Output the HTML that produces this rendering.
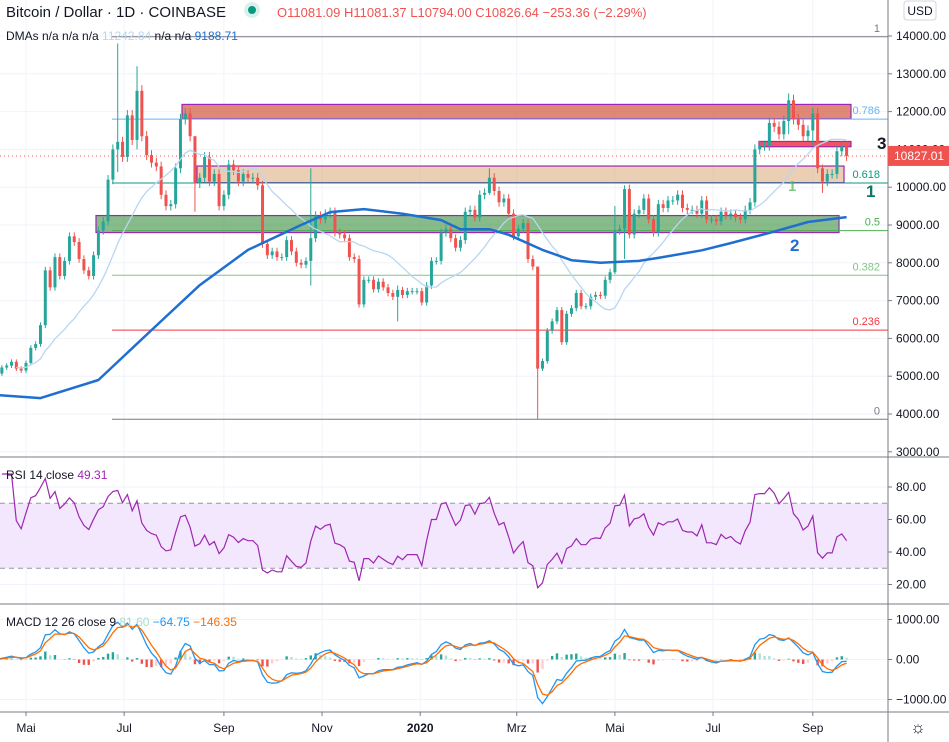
<!DOCTYPE html>
<html><head><meta charset="utf-8">
<style>
html,body{margin:0;padding:0;background:#fff;}
body{width:949px;height:742px;overflow:hidden;font-family:"Liberation Sans",sans-serif;}
svg{display:block}
text{font-family:"Liberation Sans",sans-serif;}
</style></head>
<body>
<svg id="chart" width="949" height="742" xmlns="http://www.w3.org/2000/svg">
  <g id="grid"></g>
  <g id="zones"></g>
  <g id="fib"></g>
  <g id="rsiBand"></g>
  <g id="candles"></g>
  <g id="mas"></g>
  <g id="ind"></g>
  <g id="axes"></g>
  <g id="hdr">
    <text x="6" y="17" font-size="15" fill="#131722">Bitcoin / Dollar · 1D · COINBASE</text>
    <circle cx="252" cy="10" r="8" fill="#d9f0ec"/>
    <circle cx="252" cy="10" r="4" fill="#089981"/>
    <text x="277" y="17" font-size="13" fill="#ef5350">O11081.09 H11081.37 L10794.00 C10826.64 −253.36 (−2.29%)</text>
    <text x="6" y="40" font-size="12" fill="#131722">DMAs <tspan>n/a n/a n/a </tspan><tspan fill="#b7d7f2">11242.84</tspan><tspan> n/a n/a </tspan><tspan fill="#1e6fd0">9188.71</tspan></text>
    <text x="6" y="479" font-size="12" fill="#131722">RSI 14 close <tspan fill="#9c27b0">49.31</tspan></text>
    <text x="6" y="626" font-size="12" fill="#131722">MACD 12 26 close 9 <tspan fill="#a6dbd5">81.60</tspan> <tspan fill="#2196f3">−64.75</tspan> <tspan fill="#ff6d00">−146.35</tspan></text>
    <rect x="904" y="1" width="32" height="19" rx="3" fill="#fff" stroke="#d1d4dc"/>
    <text x="920" y="15" font-size="12" fill="#131722" text-anchor="middle">USD</text>
  </g>
</svg>
<script>
// 3-day bars starting 2019-04-13
const barStartDate = "2019-04-13";
const closes = [5070,5230,5280,5380,5200,5150,5350,5750,5850,6350,7800,7350,8150,7650,8050,8700,8550,8100,7800,7650,
8200,8850,9100,10200,11000,11200,10800,11900,11250,12550,11350,10850,10650,10550,9800,9500,9550,10500,11800,11950,
11350,10100,10250,10800,10150,10350,9500,9800,10600,10450,10150,10350,10250,10250,10050,8500,8200,8300,8150,8150,
8600,8300,8000,7950,8050,8650,9250,9150,9300,9350,8800,8750,8650,8150,8100,6900,7550,7550,7300,7500,
7350,7200,7100,7280,7150,7250,7250,7250,6950,7400,8050,8050,8800,8900,8650,8400,8600,9350,9400,9200,
9800,9850,10250,9900,9600,9700,9300,8700,8900,9050,8100,7900,5200,5400,6200,6450,6750,5900,6650,6800,
7200,6850,6850,7100,7150,7130,7550,7750,8850,8900,9950,8750,9300,9400,9700,9150,8800,9550,9450,9650,
9650,9800,9450,9400,9400,9300,9650,9150,9150,9100,9350,9250,9300,9200,9150,9400,9600,11000,11100,11100,
11700,11600,11400,11750,12300,11800,11650,11350,11500,11950,10500,10150,10350,10350,10950,11080,10827];
// notable wick extremes (bar index, high, low)
const spikeBars = [25,29,41,65,83,102,112,128,130,164,169,171];
const spikeHighs = [13800,13200,10500,10500,7400,10500,5950,9500,10050,12480,12100,10600];
const spikeLows  = [10400,11000,9350,7400,6450,9800,3860,7700,8100,11400,11100,9850];
// 200 DMA (bar index, value)
const ma200Bars = [0,9,21,32,42,52,63,69,76,84,92,96,102,106,113,119,125,133,137,146,152,160,168,176];
const ma200Vals = [4500,4420,4900,6220,7410,8340,9000,9340,9420,9300,9130,8890,8890,8740,8340,8070,8000,8050,8130,8330,8520,8790,9080,9210];
const priceTicks = [3000,4000,5000,6000,7000,8000,9000,10000,11000,12000,13000,14000];
const rsiTicks = [20,40,60,80];
const macdTicks = [-1000,0,1000];
const monthLabels = ["Mai","Jul","Sep","Nov","2020","Mrz","Mai","Jul","Sep"];
const monthDates = ["2019-05-01","2019-07-01","2019-09-01","2019-11-01","2020-01-01","2020-03-01","2020-05-01","2020-07-01","2020-09-01"];
const fibLevels = [1,0.786,0.618,0.5,0.382,0.236,0];
const fibPrices = [13980,11800,10110,8850,7670,6220,3860];
const fibColors = ["#787b86","#64b5f6","#089981","#4caf50","#81c784","#f23645","#787b86"];

const NS="http://www.w3.org/2000/svg";
const DAYPX=1.609, X0=26; // x of 2019-05-01
const ms=86400000, d0=Date.parse("2019-05-01");
function xDate(s){return X0+(Date.parse(s)-d0)/ms*DAYPX;}
const b0=xDate(barStartDate);
function xBar(i){return b0+i*3*DAYPX;}
function yP(p){return 36+(14000-p)*0.0378;}
function yR(v){return 487+(80-v)*1.625;}
function yM(v){return 659.5-v*0.04;}
function mk(tag,attrs,parent){const e=document.createElementNS(NS,tag);for(const k in attrs)e.setAttribute(k,attrs[k]);parent.appendChild(e);return e;}
const G=id=>document.getElementById(id);
const PR=888;

// grid
const grid=G('grid');
monthDates.forEach(d=>{const x=xDate(d);const l=mk('line',{x1:x,x2:x,y1:0,y2:711,stroke:'#f0f3fa'},grid);

});
priceTicks.forEach(p=>{const l=mk('line',{x1:0,x2:PR,y1:yP(p),y2:yP(p),stroke:'#f0f3fa'},grid);

});
rsiTicks.forEach(v=>{mk('line',{x1:0,x2:PR,y1:yR(v),y2:yR(v),stroke:'#f0f3fa'},grid);});
macdTicks.forEach(v=>{mk('line',{x1:0,x2:PR,y1:yM(v),y2:yM(v),stroke:'#f0f3fa'},grid);});

// fib
const fib=G('fib');
fibLevels.forEach((lv,i)=>{const y=yP(fibPrices[i]);
const l=mk('line',{x1:112,x2:PR,y1:y,y2:y,stroke:fibColors[i],'stroke-width':1},fib);


const t=mk('text',{x:880,y:y-5,'font-size':11,fill:fibColors[i],'text-anchor':'end'},fib);
t.textContent=String(lv);

});

// zones
const zones=G('zones');
function zone(x1,x2,p1,p2,fill,name){const r=mk('rect',{x:x1,y:yP(p1),width:x2-x1,height:yP(p2)-yP(p1),fill:fill,stroke:'#9c27b0','stroke-width':1.2},zones);

}
zone(182,851,12190,11810,'rgba(214,103,80,0.78)','resistance-zone-red');
zone(197,844,10560,10120,'rgba(214,160,105,0.5)','zone-tan');
zone(96,839,9250,8800,'rgba(56,142,60,0.6)','support-zone-green');
zone(759,851,11210,11070,'rgba(242,54,69,0.85)','zone-3');
function lbl(x,y,t,c,s,name){const e=mk('text',{x:x,y:y,'font-size':s,fill:c,'font-weight':'bold'},zones);e.textContent=t;

}
lbl(877,149,'3','#131722',17,'label-3');
lbl(866,197,'1','#0b7a63',17,'label-1-dark');
lbl(788,191,'1','#81c784',15,'label-1-light');
lbl(790,251,'2','#1e6fd0',17,'label-2');
mk('line',{x1:0,x2:PR,y1:yP(10827),y2:yP(10827),stroke:'#ef5350','stroke-dasharray':'1 3'},zones);

// candles
const cg=G('candles');
closes.forEach((c,i)=>{
  const o=i==0?c*0.98:closes[i-1];
  let hi=Math.max(o,c)*1.012, lo=Math.min(o,c)*0.988;
  const si=spikeBars.indexOf(i); if(si>=0){hi=spikeHighs[si];lo=spikeLows[si];}
  const up=c>=o, col=up?'#26a69a':'#ef5350', x=xBar(i);
  mk('line',{x1:x,x2:x,y1:yP(hi),y2:yP(lo),stroke:col,'stroke-width':1},cg);
  const r=mk('rect',{x:x-1.5,y:yP(Math.max(o,c)),width:3,height:Math.max(1,Math.abs(yP(o)-yP(c))),fill:col},cg);
  
  
});

// MAs
const mg=G('mas');
let d50='';
closes.forEach((c,i)=>{const s=Math.max(0,i-16);const w=closes.slice(s,i+1);const a=w.reduce((p,q)=>p+q,0)/w.length;
 if(i>=4) d50+=(d50?'L':'M')+xBar(i).toFixed(1)+' '+yP(a).toFixed(1);});
const m50=mk('path',{d:d50,fill:'none',stroke:'#b7d7f2','stroke-width':1.3},mg);


let d200='';
ma200Bars.forEach((b,i)=>{d200+=(i?'L':'M')+xBar(b).toFixed(1)+' '+yP(ma200Vals[i]).toFixed(1);});
const m200=mk('path',{d:d200,fill:'none',stroke:'#1e6fd0','stroke-width':2.5,'stroke-linejoin':'round'},mg);



// RSI
const rb=G('rsiBand');
mk('rect',{x:0,y:yR(70),width:PR,height:yR(30)-yR(70),fill:'#f3e7fd'},rb);
[70,30].forEach(v=>mk('line',{x1:0,x2:PR,y1:yR(v),y2:yR(v),stroke:'#9598a1','stroke-dasharray':'5 4'},rb));
const ig=G('ind');
const N=8; let ag=0,al=0; let dr='';
closes.forEach((c,i)=>{ if(i==0)return; const ch=c-closes[i-1]; const g=Math.max(ch,0),l=Math.max(-ch,0);
 if(i<=N){ag+=g/N;al+=l/N;} else {ag=(ag*(N-1)+g)/N;al=(al*(N-1)+l)/N;}
 const r=al==0?100:100-100/(1+ag/al); const rr=48+(r-50)*0.85;
 dr+=(dr?'L':'M')+xBar(i).toFixed(1)+' '+yR(Math.max(15,Math.min(88,rr))).toFixed(1);});
const rsiP=mk('path',{d:dr,fill:'none',stroke:'#9c27b0','stroke-width':1.2},ig);



// MACD
function ema(arr,n){const k=2/(n+1);const o=[];arr.forEach((v,i)=>o.push(i?v*k+o[i-1]*(1-k):v));return o;}
const e1=ema(closes,4),e2=ema(closes,9);const macd=e1.map((v,i)=>v-e2[i]);const sig=ema(macd,3);
let dm='',ds='';
macd.forEach((v,i)=>{const x=xBar(i).toFixed(1);dm+=(i?'L':'M')+x+' '+yM(v).toFixed(1);ds+=(i?'L':'M')+x+' '+yM(sig[i]).toFixed(1);
 const h=v-sig[i];const prev=i?macd[i-1]-sig[i-1]:0;
 const col=h>=0?(h>=prev?'#26a69a':'#b2dfdb'):(h<=prev?'#ef5350':'#ffcdd2');
 mk('rect',{x:xBar(i)-1.2,y:Math.min(yM(0),yM(h)),width:2.4,height:Math.abs(yM(h)-yM(0)),fill:col},ig);});
const mp=mk('path',{d:dm,fill:'none',stroke:'#2196f3','stroke-width':1.3},ig);


const sp=mk('path',{d:ds,fill:'none',stroke:'#ff6d00','stroke-width':1.3},ig);



// axes
const ax=G('axes');
mk('rect',{x:PR,y:0,width:61,height:742,fill:'#fff'},ax);
mk('rect',{x:0,y:712,width:949,height:30,fill:'#fff'},ax);
mk('line',{x1:PR,x2:PR,y1:0,y2:742,stroke:'#787b86'},ax);
[457,604,712].forEach(y=>mk('line',{x1:0,x2:949,y1:y,y2:y,stroke:'#787b86'},ax));
function tick(y,t,name){mk('line',{x1:PR,x2:PR+4,y1:y,y2:y,stroke:'#787b86'},ax);
 const e=mk('text',{x:PR+8,y:y+4,'font-size':12,fill:'#131722'},ax);e.textContent=t;
 
 }
priceTicks.forEach(p=>tick(yP(p),p.toFixed(2),'price-tick-label'));
rsiTicks.forEach(v=>tick(yR(v),v.toFixed(2),'rsi-tick-label'));
macdTicks.forEach(v=>tick(yM(v),(v<0?'−':'')+Math.abs(v).toFixed(2),'macd-tick-label'));
mk('rect',{x:PR,y:yP(10827)-10,width:61,height:20,fill:'#ef5350'},ax);
const pt=mk('text',{x:PR+6,y:yP(10827)+4,'font-size':12,fill:'#fff'},ax);pt.textContent='10827.01';


monthLabels.forEach((m,i)=>{const x=xDate(monthDates[i]);mk('line',{x1:x,x2:x,y1:712,y2:716,stroke:'#787b86'},ax);
 const e=mk('text',{x:x,y:732,'font-size':12,fill:'#131722','text-anchor':'middle','font-weight':m=='2020'?'bold':'normal'},ax);e.textContent=m;
 
 });
const gear=mk('text',{x:918,y:733,'font-size':17,fill:'#131722','text-anchor':'middle'},ax);gear.textContent='☼';


</script>
</body></html>
